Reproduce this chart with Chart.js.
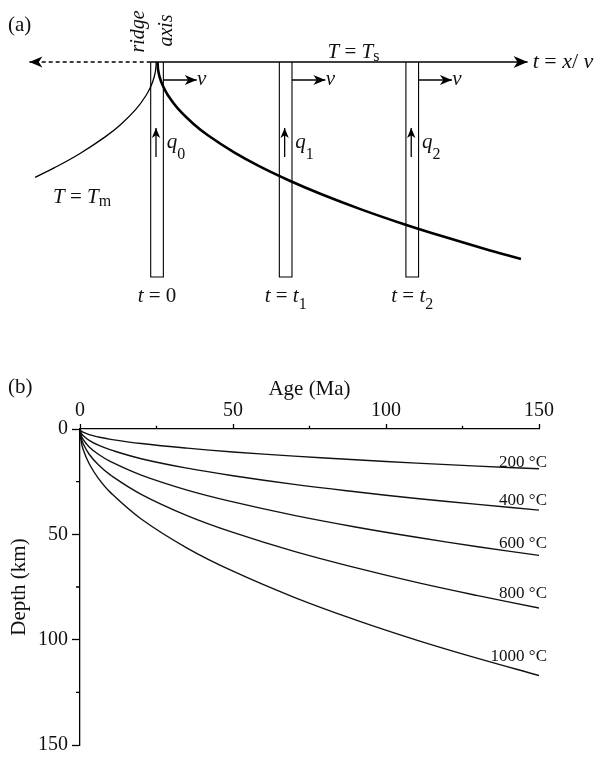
<!DOCTYPE html>
<html>
<head>
<meta charset="utf-8">
<script src="https://cdn.jsdelivr.net/npm/chart.js@4.4.0/dist/chart.umd.min.js"></script>
<style>
  body { margin: 0; background: #fff; width: 596px; height: 761px; overflow: hidden; }
  canvas { display: block; }
</style>
</head>
<body>
<canvas id="schema" width="596" height="320"></canvas>
<canvas id="isotherms" width="596" height="441"></canvas>
<script>
// ---- (a) schematic: x = distance from the ridge, y = depth (arbitrary units)
const columnAges = [0, 12.6, 25.0]
const columnNames = ['0', '1', '2']
const columnDepth = 21.5
const surfaceStart = -12.5
const surfaceEnd = 36.3
const baseX = [0.05, 0.1, 0.25, 0.55, 1.05, 2.05, 3.55, 5.05, 7.55, 10.05, 13.05, 16.05, 20.05, 24.05, 28.05, 32.05, 35.65]
const baseDepth = [0, 0.74, 1.48, 2.33, 3.3, 4.67, 6.17, 7.38, 9.04, 10.44, 11.9, 13.2, 14.76, 16.17, 17.46, 18.67, 19.69]
const ridgeX = [-11.95, -10.08, -7.58, -5.08, -3.58, -2.08, -1.08, -0.58, -0.28, -0.13, -0.08]
const ridgeDepth = [11.54, 10.59, 9.17, 7.49, 6.27, 4.74, 3.35, 2.37, 1.5, 0.75, 0]

// ---- (b) depth of isotherms vs age
const ages = [0, 0.3, 1, 3, 6, 10, 20, 35, 50, 70, 90, 110, 130, 150]
const isoNames = ['200 °C', '400 °C', '600 °C', '800 °C', '1000 °C']
const depth200 = [0, 0.85, 1.5, 2.7, 3.8, 4.9, 6.9, 9.1, 10.9, 12.9, 14.6, 16.2, 17.6, 18.9]
const depth400 = [0, 1.7, 3.1, 5.4, 7.7, 9.9, 14.1, 18.6, 22.2, 26.3, 29.8, 33.0, 35.8, 38.5]
const depth600 = [0, 2.7, 4.9, 8.5, 12.0, 15.5, 21.9, 29.0, 34.6, 41.0, 46.5, 51.4, 55.9, 60.0]
const depth800 = [0, 3.8, 6.9, 12.0, 17.0, 21.9, 31.0, 41.1, 49.1, 58.1, 65.8, 72.8, 79.1, 85.0]
const depth1000 = [0, 5.2, 9.6, 16.5, 23.4, 30.2, 42.7, 56.5, 67.5, 79.9, 90.6, 100.2, 108.9, 117.0]
const ageTicks = [0, 50, 100, 150]
const depthTicks = [0, 50, 100, 150]

const SERIF = "'Liberation Serif', 'Times New Roman', serif"
const INK = '#111'
const pts = (xs, ys) => xs.map((x, i) => ({x, y: ys[i]}))

// text with italic / subscript pieces
const I = t => ({t, it: true})
const R = t => ({t})
const S = (t, dy) => ({t, sub: true, dy})
function rich(ctx, parts, x, y, align, size) {
  const fontOf = p => `${p.it ? 'italic ' : ''}${p.sub ? Math.round(size * 0.75) : size}px ${SERIF}`
  let w = 0
  parts.forEach(p => { ctx.font = fontOf(p); w += ctx.measureText(p.t).width })
  let cx = align === 'center' ? x - w / 2 : align === 'right' ? x - w : x
  ctx.textAlign = 'left'
  ctx.textBaseline = 'alphabetic'
  parts.forEach(p => {
    ctx.font = fontOf(p)
    ctx.fillText(p.t, cx, y + (p.sub ? p.dy : 0))
    cx += ctx.measureText(p.t).width
  })
}

// stealth arrow heads at the last point of datasets that have "arrow"
const arrowHeads = {
  id: 'arrowHeads',
  afterDatasetsDraw(chart) {
    const ctx = chart.ctx
    chart.data.datasets.forEach((ds, i) => {
      if (!ds.arrow) return
      const p = chart.getDatasetMeta(i).data
      const a = p[p.length - 2], b = p[p.length - 1]
      const len = Math.hypot(b.x - a.x, b.y - a.y)
      const ux = (b.x - a.x) / len, uy = (b.y - a.y) / len
      const L = ds.arrow, W = L * 0.42
      ctx.save()
      ctx.fillStyle = '#000'
      ctx.beginPath()
      ctx.moveTo(b.x, b.y)
      ctx.lineTo(b.x - L * ux - W * uy, b.y - L * uy + W * ux)
      ctx.lineTo(b.x - 0.72 * L * ux, b.y - 0.72 * L * uy)
      ctx.lineTo(b.x - L * ux + W * uy, b.y - L * uy - W * ux)
      ctx.closePath()
      ctx.fill()
      ctx.restore()
    })
  }
}

const HALF = 0.62
const schemaSets = []
schemaSets.push({data: [{x: columnAges[0] - HALF, y: 0}, {x: surfaceStart, y: 0}], borderDash: [4, 3], borderWidth: 1.3, arrow: 13})
schemaSets.push({data: [{x: columnAges[0] - HALF, y: 0}, {x: surfaceEnd, y: 0}], borderWidth: 1.5, arrow: 14})
columnAges.forEach(c => {
  schemaSets.push({data: [{x: c - HALF, y: 0}, {x: c - HALF, y: columnDepth}, {x: c + HALF, y: columnDepth}, {x: c + HALF, y: 0}], borderWidth: 1.1})
  schemaSets.push({data: [{x: c + HALF, y: 1.8}, {x: c + HALF + 3.27, y: 1.8}], borderWidth: 1.3, arrow: 12})
  schemaSets.push({data: [{x: c - 0.1, y: 9.5}, {x: c - 0.1, y: 6.6}], borderWidth: 1.3, arrow: 10})
})
schemaSets.push({data: pts(ridgeX, ridgeDepth), borderWidth: 1.3, tension: 0.4})
schemaSets.push({data: pts(baseX, baseDepth), borderWidth: 2.6, tension: 0.4})
schemaSets.forEach(ds => {
  ds.showLine = true
  ds.pointRadius = 0
  ds.borderColor = '#000'
  ds.tension = ds.tension || 0
})

const schemaText = {
  id: 'schemaText',
  afterDraw(chart) {
    const ctx = chart.ctx
    const X = v => chart.scales.x.getPixelForValue(v)
    const Y = v => chart.scales.y.getPixelForValue(v)
    ctx.save()
    ctx.fillStyle = INK
    rich(ctx, [R('(a)')], X(-14.6), Y(-3.1), 'left', 21)
    // rotated ridge axis label
    ;[['ridge', -1.27, -3.05], ['axis', 1.47, -3.15]].forEach(([t, x, y]) => {
      ctx.save()
      ctx.translate(X(x), Y(y))
      ctx.rotate(-Math.PI / 2)
      ctx.font = `italic 20px ${SERIF}`
      ctx.textAlign = 'center'
      ctx.textBaseline = 'alphabetic'
      ctx.fillText(t, 0, 0)
      ctx.restore()
    })
    rich(ctx, [I('T'), R(' = '), I('T'), S('s', 3)], X(19.25), Y(-0.4), 'center', 21)
    rich(ctx, [I('t'), R(' = '), I('x'), R('/ '), I('v')], X(surfaceEnd + 0.5), Y(0.6), 'left', 22)
    rich(ctx, [I('T'), R(' = '), I('T'), S('m', 3)], X(-10.19), Y(14.07), 'left', 21)
    columnAges.forEach((c, i) => {
      rich(ctx, [I('v')], X(c + HALF + 3.3), Y(2.3), 'left', 21)
      rich(ctx, [I('q'), S(columnNames[i], 11)], X(c + 0.95), Y(8.55), 'left', 21)
      const tl = i === 0 ? [I('t'), R(' = 0')] : [I('t'), R(' = '), I('t'), S(columnNames[i], 7)]
      rich(ctx, tl, X(c), Y(24.0), 'center', 21)
    })
    ctx.restore()
  }
}

new Chart(document.getElementById('schema'), {
  type: 'scatter',
  data: {datasets: schemaSets},
  options: {
    responsive: false,
    animation: false,
    layout: {padding: {left: 3.9, right: 0, top: 0, bottom: 0}},
    plugins: {legend: {display: false}, tooltip: {enabled: false}},
    scales: {
      x: {type: 'linear', display: false, min: -15, max: 43},
      y: {type: 'linear', display: false, min: -6.2, max: 25.8, reverse: true}
    }
  },
  plugins: [arrowHeads, schemaText]
})

// ---- (b)
const isoDepths = [depth200, depth400, depth600, depth800, depth1000]
const labelLift = [2, 5, 7.5, 10.5, 14.5]

const minorTicks = {
  id: 'minorTicks',
  afterDraw(chart) {
    const {ctx, chartArea, scales} = chart
    ctx.save()
    ctx.strokeStyle = '#000'
    ctx.lineWidth = 1.3
    ctx.beginPath()
    ;[25, 75, 125].forEach(v => {
      const x = scales.x.getPixelForValue(v)
      ctx.moveTo(x, chartArea.top)
      ctx.lineTo(x, chartArea.top - 3.3)
      const y = scales.y.getPixelForValue(v)
      ctx.moveTo(chartArea.left, y)
      ctx.lineTo(chartArea.left - 4, y)
    })
    ctx.stroke()
    ctx.restore()
  }
}

const isoText = {
  id: 'isoText',
  afterDraw(chart) {
    const ctx = chart.ctx
    ctx.save()
    ctx.fillStyle = INK
    chart.data.datasets.forEach((ds, i) => {
      const p = chart.getDatasetMeta(i).data
      const end = p[p.length - 1]
      rich(ctx, [R(ds.label)], end.x + 8, end.y - labelLift[i], 'right', 17)
    })
    rich(ctx, [R('(b)')], chart.chartArea.left - 72, chart.chartArea.top - 36, 'left', 21)
    ctx.restore()
  }
}

const tickFont = {family: SERIF, size: 20}
new Chart(document.getElementById('isotherms'), {
  type: 'scatter',
  data: {
    datasets: isoDepths.map((d, i) => ({
      label: isoNames[i],
      data: pts(ages, d),
      showLine: true,
      borderColor: INK,
      borderWidth: 1.4,
      pointRadius: 0,
      tension: 0.4
    }))
  },
  options: {
    responsive: false,
    animation: false,
    layout: {padding: {left: 0, right: 57, top: 0, bottom: 14}},
    plugins: {legend: {display: false}, tooltip: {enabled: false}},
    scales: {
      x: {
        type: 'linear', position: 'top', min: 0, max: 150,
        afterFit: s => { s.height = 109 },
        afterBuildTicks: s => { s.ticks = [0, 25, 50, 75, 100, 125, 150].map(v => ({value: v})) },
        ticks: {padding: 1, color: INK, font: tickFont, maxRotation: 0,
          callback: v => ageTicks.includes(v) ? String(v) : ''},
        grid: {drawOnChartArea: false, tickLength: 5, tickWidth: 1.3,
          tickColor: c => (c.tick && !ageTicks.includes(c.tick.value)) ? 'rgba(0,0,0,0)' : '#000'},
        border: {color: '#000', width: 1.3},
        title: {display: true, text: 'Age (Ma)', color: INK, font: {family: SERIF, size: 21}, padding: {top: 57, bottom: 0}}
      },
      y: {
        type: 'linear', min: 0, max: 150, reverse: true,
        afterFit: s => { s.width = 80 },
        afterBuildTicks: s => { s.ticks = [0, 25, 50, 75, 100, 125, 150].map(v => ({value: v})) },
        ticks: {padding: 4, color: INK, font: tickFont,
          callback: v => depthTicks.includes(v) ? String(v) : ''},
        grid: {drawOnChartArea: false, tickLength: 8, tickWidth: 1.3,
          tickColor: c => (c.tick && !depthTicks.includes(c.tick.value)) ? 'rgba(0,0,0,0)' : '#000'},
        border: {color: '#000', width: 1.3},
        title: {display: true, text: 'Depth (km)', color: INK, font: {family: SERIF, size: 21}, padding: {top: 7, bottom: 0}}
      }
    }
  },
  plugins: [minorTicks, isoText]
})
</script>
</body>
</html>
